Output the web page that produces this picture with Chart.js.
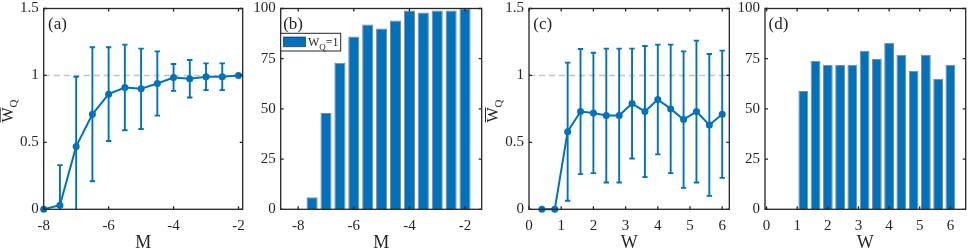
<!DOCTYPE html>
<html>
<head>
<meta charset="utf-8">
<script src="https://cdn.jsdelivr.net/npm/chart.js@4/dist/chart.umd.min.js"></script>
<style>
  html,body{margin:0;padding:0;background:#fff;}
  body{width:969px;height:251px;overflow:hidden;position:relative;}
  canvas{position:absolute;top:0;}
</style>
</head>
<body>
<canvas id="pa" width="250" height="251" style="left:0px"></canvas>
<canvas id="pb" width="235" height="251" style="left:250px"></canvas>
<canvas id="pc" width="250" height="251" style="left:485px"></canvas>
<canvas id="pd" width="234" height="251" style="left:735px"></canvas>
<script>
// ---------------- data ----------------
const mValues  = [-8, -7.5, -7, -6.5, -6, -5.5, -5, -4.5, -4, -3.5, -3, -2.5, -2];
const wqMeanM  = [0, 0.03, 0.47, 0.71, 0.86, 0.91, 0.90, 0.94, 0.985, 0.975, 0.99, 0.99, 1.0];
const wqErrM   = [0, 0.30, 0.52, 0.50, 0.35, 0.32, 0.30, 0.24, 0.10, 0.14, 0.10, 0.10, 0];
const pctOneM  = [0, 6, 48, 73, 86, 92, 90, 94, 99, 98, 99, 99, 100];

const wValues  = [0.4, 0.8, 1.2, 1.6, 2.0, 2.4, 2.8, 3.2, 3.6, 4.0, 4.4, 4.8, 5.2, 5.6, 6.0];
const wqMeanW  = [0, 0, 0.58, 0.73, 0.72, 0.70, 0.70, 0.79, 0.73, 0.82, 0.75, 0.67, 0.73, 0.63, 0.71];
const wqErrW   = [0, 0, 0.516, 0.467, 0.45, 0.50, 0.50, 0.41, 0.49, 0.41, 0.48, 0.51, 0.53, 0.53, 0.475];
const pctOneW  = [0, 0, 59, 74, 72, 72, 72, 79, 75, 83, 77, 69, 77, 65, 72];

const mTicks   = [-8, -6, -4, -2];
const wTicks   = [0, 1, 2, 3, 4, 5, 6];
const wqTicks  = [0, 0.5, 1, 1.5];
const pctTicks = [0, 25, 50, 75, 100];
const refLevel = 1;

// ---------------- style ----------------
const BLUE = '#0072BD';
const AXIS = '#262626';
const FONT = "'Liberation Serif'";

function makeDeco(cfg) {
  return {
    id: 'deco_' + cfg.letter,
    beforeDatasetsDraw(chart) {
      if (!cfg.ref) return;
      const {ctx, chartArea: a, scales: {y}} = chart;
      const py = y.getPixelForValue(refLevel);
      ctx.save();
      ctx.strokeStyle = '#c4c4c4';
      ctx.lineWidth = 1.6;
      ctx.setLineDash([6, 4]);
      ctx.beginPath();
      ctx.moveTo(a.left, py); ctx.lineTo(a.right, py);
      ctx.stroke();
      ctx.restore();
    },
    afterDatasetsDraw(chart) {
      const {ctx, chartArea: a, scales: {x, y}} = chart;
      if (cfg.err) {
        ctx.save();
        ctx.beginPath();
        ctx.rect(a.left, a.top, a.right - a.left, a.bottom - a.top);
        ctx.clip();
        ctx.strokeStyle = BLUE;
        ctx.lineWidth = 1.9;
        ctx.beginPath();
        cfg.xs.forEach((xv, i) => {
          const e = cfg.err[i];
          if (!e) return;
          const px = x.getPixelForValue(xv);
          const hi = y.getPixelForValue(cfg.mean[i] + e);
          const lo = y.getPixelForValue(cfg.mean[i] - e);
          ctx.moveTo(px, hi); ctx.lineTo(px, lo);
          ctx.moveTo(px - 2.7, hi); ctx.lineTo(px + 2.7, hi);
          ctx.moveTo(px - 2.7, lo); ctx.lineTo(px + 2.7, lo);
        });
        ctx.stroke();
        ctx.restore();
      }
    },
    afterDraw(chart) {
      const {ctx, chartArea: a, scales: {x, y}} = chart;
      ctx.save();
      // frame
      ctx.strokeStyle = AXIS;
      ctx.lineWidth = 1.3;
      ctx.strokeRect(a.left, a.top, a.right - a.left, a.bottom - a.top);
      // inward ticks on all sides
      const L = 3;
      ctx.beginPath();
      cfg.xTicks.forEach(v => {
        const px = x.getPixelForValue(v);
        ctx.moveTo(px, a.bottom); ctx.lineTo(px, a.bottom - L);
        ctx.moveTo(px, a.top); ctx.lineTo(px, a.top + L);
      });
      cfg.yTicks.forEach(v => {
        const py = y.getPixelForValue(v);
        ctx.moveTo(a.left, py); ctx.lineTo(a.left + L, py);
        ctx.moveTo(a.right, py); ctx.lineTo(a.right - L, py);
      });
      ctx.stroke();
      // panel letter
      ctx.fillStyle = AXIS;
      ctx.font = '17px ' + FONT;
      ctx.textAlign = 'left';
      ctx.textBaseline = 'alphabetic';
      ctx.fillText('(' + cfg.letter + ')', a.left + cfg.letterDx, a.top + 20);
      // x title
      ctx.font = '18px ' + FONT;
      ctx.textAlign = 'center';
      ctx.fillText(cfg.xTitle, (a.left + a.right) / 2, a.bottom + 39);
      // y title  W̄_Q
      if (cfg.yTitle) {
        ctx.save();
        ctx.translate(a.left - 31, a.top + 114);
        ctx.rotate(-Math.PI / 2);
        ctx.textAlign = 'left';
        ctx.font = '16px ' + FONT;
        ctx.fillText('W', 0, 0);
        const w = ctx.measureText('W').width;
        ctx.lineWidth = 1;
        ctx.strokeStyle = AXIS;
        ctx.beginPath();
        ctx.moveTo(0, -12.5); ctx.lineTo(w, -12.5);
        ctx.stroke();
        ctx.font = '11px ' + FONT;
        ctx.fillText('Q', w, 4);
        ctx.restore();
      }
      // legend
      if (cfg.legend) {
        const bx = a.left, by = a.top + 24.8, bw = 60, bh = 17.7;
        ctx.fillStyle = '#fff';
        ctx.fillRect(bx, by, bw, bh);
        ctx.strokeStyle = AXIS;
        ctx.lineWidth = 1;
        ctx.strokeRect(bx, by, bw, bh);
        ctx.fillStyle = BLUE;
        ctx.fillRect(bx + 2.8, by + 3.7, 22, 9.7);
        ctx.strokeStyle = 'rgba(30,30,30,0.6)';
        ctx.strokeRect(bx + 2.8, by + 3.7, 22, 9.7);
        ctx.fillStyle = AXIS;
        ctx.textAlign = 'left';
        ctx.font = '12px ' + FONT;
        let tx = bx + 27.3;
        const ty = by + 12.3;
        ctx.fillText('W', tx, ty);
        tx += ctx.measureText('W').width;
        ctx.font = '9px ' + FONT;
        ctx.fillText('Q', tx, ty + 4);
        tx += ctx.measureText('Q').width;
        ctx.font = '12px ' + FONT;
        ctx.fillText('=1', tx, ty);
      }
      ctx.restore();
    }
  };
}

function axes(o) {
  return {
    x: {
      type: 'linear', min: o.xmin, max: o.xmax, offset: false,
      grid: {display: false, drawTicks: false},
      border: {display: false},
      afterBuildTicks: s => { s.ticks = o.xTicks.map(v => ({value: v})); },
      afterFit: s => { s.height = o.bottomH; s.paddingLeft = 0; s.paddingRight = 0; },
      ticks: {
        autoSkip: false, maxRotation: 0, padding: 8, color: AXIS,
        font: {family: FONT, size: 15},
        callback: v => String(v)
      }
    },
    y: {
      type: 'linear', min: o.ymin, max: o.ymax,
      grid: {display: false, drawTicks: false},
      border: {display: false},
      afterBuildTicks: s => { s.ticks = o.yTicks.map(v => ({value: v})); },
      afterFit: s => { s.width = o.leftW; s.paddingTop = 0; s.paddingBottom = 0; },
      ticks: {
        autoSkip: false, padding: 5, color: AXIS,
        font: {family: FONT, size: 15},
        callback: v => String(v)
      }
    }
  };
}

function baseOptions(o) {
  return {
    responsive: false,
    animation: false,
    events: [],
    layout: {padding: {left: 0, top: 8.5, right: o.rightPad, bottom: 0}},
    plugins: {legend: {display: false}, tooltip: {enabled: false}, title: {display: false}},
    scales: axes(o)
  };
}

function lineChart(id, xs, mean, err, xmin, xmax, xTicks, letter, xTitle, leftW, rightPad) {
  const o = {xmin, xmax, ymin: 0, ymax: 1.5, xTicks, yTicks: wqTicks, leftW, bottomH: 41.7, rightPad};
  new Chart(document.getElementById(id), {
    type: 'line',
    data: {
      datasets: [{
        data: xs.map((v, i) => ({x: v, y: mean[i]})),
        borderColor: BLUE, backgroundColor: BLUE,
        borderWidth: 2, pointRadius: 3.5, pointBorderWidth: 0,
        pointBackgroundColor: BLUE, tension: 0, clip: false
      }]
    },
    options: baseOptions(o),
    plugins: [makeDeco({letter, letterDx: 4.3, xTitle, yTitle: true, ref: true, err, mean, xs,
      xTicks, yTicks: wqTicks})]
  });
}

function barChart(id, xs, vals, xmin, xmax, xTicks, letter, xTitle, leftW, rightPad, legend, letterDx) {
  const o = {xmin, xmax, ymin: 0, ymax: 100, xTicks, yTicks: pctTicks, leftW, bottomH: 41.7, rightPad};
  new Chart(document.getElementById(id), {
    type: 'bar',
    data: {
      datasets: [{
        data: xs.map((v, i) => ({x: v, y: vals[i]})),
        backgroundColor: BLUE,
        borderColor: 'rgba(35,35,35,0.55)',
        borderWidth: 1,
        borderSkipped: 'start',
        barPercentage: 0.8,
        categoryPercentage: 1.0
      }]
    },
    options: baseOptions(o),
    plugins: [makeDeco({letter, letterDx, xTitle, yTitle: false, ref: false, legend,
      xTicks, yTicks: pctTicks})]
  });
}

lineChart('pa', mValues, wqMeanM, wqErrM, -8, -1.87, mTicks, 'a', 'M', 43.7, 7.3);
barChart('pb', mValues, pctOneM, -8.63, -1.4, mTicks, 'b', 'M', 30.7, 3.3, true, 2.5);
lineChart('pc', wValues, wqMeanW, wqErrW, 0, 6.22, wTicks, 'c', 'W', 44, 5.7);
barChart('pd', wValues, pctOneW, -0.05, 6.5, wTicks, 'd', 'W', 30, 3.3, false, 3.5);
</script>
</body>
</html>
